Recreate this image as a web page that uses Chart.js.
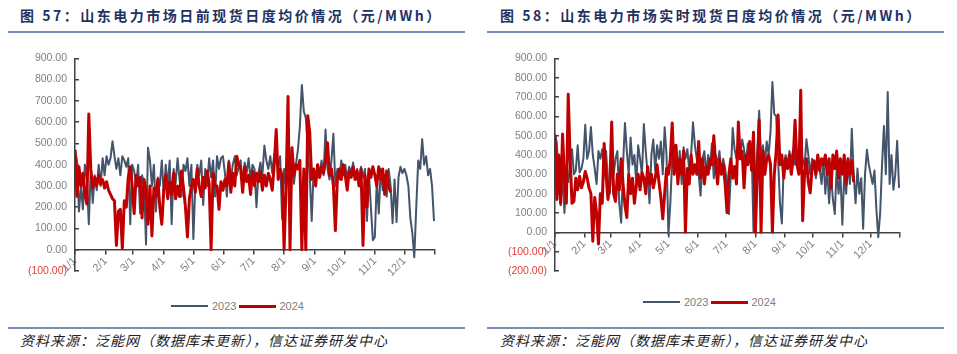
<!DOCTYPE html>
<html>
<head>
<meta charset="utf-8">
<script src="https://cdn.jsdelivr.net/npm/chart.js@4.4.1/dist/chart.umd.min.js"></script>
<style>
body{margin:0;background:#fff;width:957px;height:354px;position:relative;overflow:hidden;font-family:"Liberation Sans",Arial,sans-serif}
.title{position:absolute;top:5px;font:bold 14px "Noto Sans CJK SC",sans-serif;color:#1f3161;letter-spacing:2.5px;white-space:nowrap}
.rule{position:absolute;height:2px;background:#7891b5}
.src{position:absolute;top:330px;font:italic 14px "Noto Sans CJK SC",sans-serif;color:#222;letter-spacing:1px;white-space:nowrap}
.box{position:absolute;top:40px;height:250px}
.legend{position:absolute;font-size:11px;color:#808080;display:flex;align-items:center;height:12px}
.legend i{display:inline-block;width:37px}
</style>
</head>
<body>

<div class="title" style="left:20px">图 57：山东电力市场日前现货日度均价情况（元/MWh）</div>
<div class="title" style="left:500px">图 58：山东电力市场实时现货日度均价情况（元/MWh）</div>
<div class="rule" style="left:8px;width:457px;top:31px"></div>
<div class="rule" style="left:487px;width:457px;top:31px"></div>

<div class="box" style="left:0;width:480px"><canvas id="daChart" width="480" height="250"></canvas></div>
<div class="box" style="left:480px;width:477px"><canvas id="rtChart" width="477" height="250"></canvas></div>

<div class="legend" style="left:171px;top:300px">
<i style="height:2px;background:#44546a;margin-right:4px"></i>2023<i style="height:3px;background:#c00000;margin:0 3px"></i>2024
</div>
<div class="legend" style="left:643px;top:296px">
<i style="height:2px;background:#44546a;margin-right:4px"></i>2023<i style="height:3px;background:#c00000;margin:0 3px"></i>2024
</div>

<div class="rule" style="left:8px;width:457px;top:327px"></div>
<div class="rule" style="left:487px;width:457px;top:327px"></div>
<div class="src" style="left:20px">资料来源：泛能网（数据库未更新），信达证券研发中心</div>
<div class="src" style="left:500px">资料来源：泛能网（数据库未更新），信达证券研发中心</div>

<script>

// x轴: 日序号 (每2天一个点)
const dayStep = 2
const monthDays = [0,31,59,90,120,151,181,212,243,273,304,334,365]
const monthLabels = ["1/1","2/1","3/1","4/1","5/1","6/1","7/1","8/1","9/1","10/1","11/1","12/1",""]

// 日前 2023
const da2023 = [
470,420,180,300,190,400,330,120,380,220,350,280,400,300,430,350,
440,400,430,510,440,380,430,350,440,420,390,430,120,400,
370,300,400,170,350,310,25,480,420,300,400,180,340,300,420,
260,400,300,420,120,380,310,430,330,250,400,370,430,300,400,
50,300,400,350,420,210,380,300,430,340,420,250,440,380,430,
440,360,250,420,330,400,440,350,390,420,300,410,360,430,330,400,
380,200,360,410,350,490,420,380,440,360,450,430,390,440,145,
380,300,420,350,440,310,400,470,580,775,650,620,480,350,135,380,
330,400,360,420,350,565,380,330,420,545,300,380,330,420,350,
400,330,390,360,410,340,380,300,390,340,380,135,360,200,45,
60,330,170,380,280,350,250,380,300,125,330,130,340,390,360,
380,350,300,150,80,-35,200,420,380,520,400,440,350,380,300,135
]

// 日前 2024
const da2024 = [
470,250,390,300,360,260,215,638,380,290,340,300,350,310,330,290,
320,280,260,240,230,20,180,190,5,230,200,340,390,300,
170,350,300,340,150,330,280,120,300,65,290,250,330,200,120,
280,350,240,320,260,360,240,300,250,370,290,200,60,240,300,
330,270,380,300,250,340,290,370,310,0,360,300,300,190,320,
280,330,300,410,270,360,300,440,400,380,270,390,320,350,260,370,
300,360,320,370,280,350,300,360,330,280,400,565,330,380,350,
0,300,720,0,480,350,400,380,420,0,380,0,630,550,330,380,
300,400,340,390,360,420,503,350,380,300,90,330,380,330,400,
350,280,370,340,390,330,370,300,380,20,350,200,380,340,390,
350,300,390,330,380,260,370,300,270
]

// 实时 2023
const rt2023 = [
510,460,250,140,300,100,320,260,350,430,300,320,450,310,330,380,
556,380,420,545,400,330,250,420,380,430,330,420,270,200,
430,300,380,420,150,50,350,566,420,300,490,350,400,250,450,
380,300,560,420,300,150,400,480,320,450,380,470,300,543,400,
-12,150,380,330,450,300,420,250,440,380,430,320,400,569,450,
380,300,190,380,420,300,400,330,460,280,400,350,420,300,380,330,
250,95,300,539,430,380,470,400,480,430,350,460,400,450,0,
300,420,629,380,450,350,470,400,520,777,612,600,380,150,46,350,
400,330,420,370,430,350,400,320,430,380,340,481,400,300,380,
350,280,400,330,250,380,200,330,150,300,170,95,330,200,300,
39,300,200,350,250,536,300,150,330,200,280,19,300,427,350,
300,250,320,120,-25,100,350,550,300,726,250,400,220,300,473,230
]

// 实时 2024
const rt2024 = [
500,170,400,150,508,280,150,714,380,150,160,280,220,290,230,260,
315,280,230,200,-46,180,100,-60,200,150,459,300,170,250,
570,200,160,300,220,380,250,140,77,300,200,280,150,240,300,
220,310,280,200,340,250,300,230,280,350,260,180,70,200,330,
300,380,566,300,450,250,380,300,420,0,330,250,400,300,350,
300,470,280,380,250,340,300,380,350,500,350,250,380,300,350,250,
102,300,380,280,340,250,570,380,420,230,400,350,470,320,518,
0,300,580,0,420,300,380,400,350,0,300,420,607,350,400,280,
380,330,400,300,380,580,350,300,735,60,300,380,260,204,330,
370,300,400,320,380,350,400,300,380,229,400,330,420,280,380,
300,400,250,380,300,370,260
]

function toPoints(vals){
return vals.map((v,i)=>({x:i*dayStep,y:v}))
}

function fmt(v){
return v<0 ? "("+(-v).toFixed(2)+")" : v.toFixed(2)
}

function drawChart(id,v2023,v2024,yMin,padRight){

new Chart(document.getElementById(id),{
type:"line",

data:{
datasets:[
{label:"2024",data:toPoints(v2024),borderColor:"#c00000",borderWidth:3,order:0},
{label:"2023",data:toPoints(v2023),borderColor:"#44546a",borderWidth:2,order:1}
]
},

options:{
responsive:false,
animation:false,
layout:{padding:{left:0,right:padRight,top:14,bottom:19}},
elements:{point:{radius:0},line:{tension:0,borderJoinStyle:"round"}},
plugins:{legend:{display:false},tooltip:{enabled:false}},
scales:{
x:{
type:"linear",min:0,max:365,
position:{y:0},
afterBuildTicks:s=>{s.ticks=monthDays.map(v=>({value:v}))},
grid:{drawOnChartArea:false,tickLength:4,color:"#404040",lineWidth:1.5},
border:{color:"#404040",width:1.5},
ticks:{autoSkip:false,minRotation:45,maxRotation:45,padding:1,color:"#808080",
font:{size:11,family:"Liberation Sans"},
callback:(v,i)=>monthLabels[i]}
},
y:{
min:yMin,max:900,
afterFit:s=>{s.width=75},
grid:{drawOnChartArea:false,tickLength:-4,color:"#404040",lineWidth:1.5},
border:{color:"#404040",width:1.5},
ticks:{stepSize:100,padding:12,
font:{size:10.5,family:"Liberation Sans"},
color:c=>c.tick && c.tick.value<0 ? "#e0403c" : "#808080",
callback:v=>fmt(v)}
}
}
}
})

}

drawChart("daChart",da2023,da2024,-100,45)
drawChart("rtChart",rt2023,rt2024,-200,57)

</script>
</body>
</html>
